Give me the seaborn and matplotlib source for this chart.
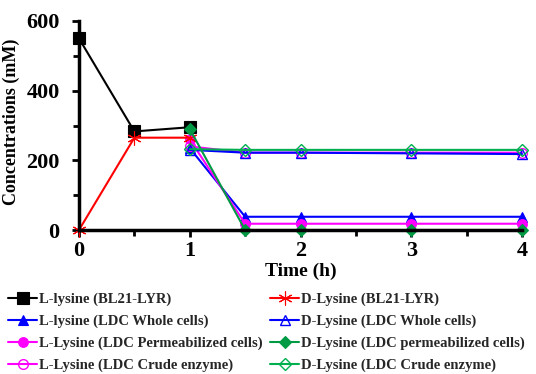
import matplotlib
matplotlib.use("Agg")
import matplotlib.pyplot as plt
import seaborn as sns
import pandas as pd
from matplotlib.ticker import MultipleLocator

sns.set_theme(style="white")
plt.rcParams['font.family'] = ['Liberation Serif', 'DejaVu Serif']
plt.rcParams['font.weight'] = 'bold'

t_bl21 = [0, 0.5, 1]
L_bl21 = [550, 283, 295]
D_bl21 = [0, 265, 265]
t_ldc = [1, 1.5, 2, 3, 4]
L_whole = [235, 38, 38, 38, 38]
D_whole = [230, 222, 222, 220, 218]
L_perm = [260, 18, 18, 18, 18]
D_perm = [290, 0, 0, 0, 0]
L_crude = [240, 222, 222, 222, 222]
D_crude = [232, 230, 230, 230, 230]

series = [
    ("L-lysine (BL21-LYR)", t_bl21, L_bl21, "black", "s", "black"),
    ("L-lysine (LDC Whole cells)", t_ldc, L_whole, "#0000FF", "^", "#0000FF"),
    ("L-Lysine (LDC Permeabilized cells)", t_ldc, L_perm, "#FF00FF", "o", "#FF00FF"),
    ("L-Lysine (LDC Crude enzyme)", t_ldc, L_crude, "#FF00FF", "o", "none"),
    ("D-Lysine (BL21-LYR)", t_bl21, D_bl21, "#FF0000", (6, 2, 0), "#FF0000"),
    ("D-Lysine (LDC Whole cells)", t_ldc, D_whole, "#0000FF", "^", "none"),
    ("D-Lysine (LDC permeabilized cells)", t_ldc, D_perm, "#009944", "D", "#009944"),
    ("D-Lysine (LDC Crude enzyme)", t_ldc, D_crude, "#00B050", "D", "none"),
]

fig = plt.figure(figsize=(5.36, 3.74), dpi=100)
ax = fig.add_axes([79/536, 1 - 230/374, (522-79)/536, (230-21)/374])

for name, tx, vals, col, mk, fc in series:
    df = pd.DataFrame({"t": tx, "v": vals})
    ms = 7
    if isinstance(mk, tuple):
        ms = 10
    elif mk == "D":
        ms = 6
    elif mk == "s":
        ms = 8
    sns.lineplot(data=df, x="t", y="v", ax=ax, color=col, marker=mk,
                 markerfacecolor=fc, markeredgecolor=col, markersize=ms,
                 linewidth=1.5, label=name, legend=False, clip_on=False,
                 markeredgewidth=1.0 if fc == "none" else 0.8)

ax.set_xlim(0, 4)
ax.set_ylim(0, 600)
ax.xaxis.set_major_locator(MultipleLocator(1))
ax.xaxis.set_minor_locator(MultipleLocator(0.5))
ax.yaxis.set_major_locator(MultipleLocator(200))
ax.yaxis.set_minor_locator(MultipleLocator(100))
for s in ["top", "right"]:
    ax.spines[s].set_visible(False)
for s in ["left", "bottom"]:
    ax.spines[s].set_color("black")
    ax.spines[s].set_linewidth(2.5)
ax.tick_params(which="major", direction="out", length=5, width=2, colors="black",
               labelsize=16, bottom=True, left=True, pad=3)
ax.tick_params(axis="y", which="major", pad=9)
ax.tick_params(which="minor", direction="out", length=4, width=2, colors="black",
               bottom=True, left=True)
for lbl in ax.get_xticklabels() + ax.get_yticklabels():
    lbl.set_fontweight("bold")
ax.set_xlabel("Time (h)", fontsize=14, fontweight="bold", labelpad=1, color="black")
ax.set_ylabel("Concentrations (mM)", fontsize=13, fontweight="bold", color="black")
ax.yaxis.set_label_coords(-0.133, 0.517)
ax.set_facecolor("white")

handles, labels = ax.get_legend_handles_labels()
leg = fig.legend(handles, labels, ncol=2, loc="upper left", bbox_to_anchor=(0.015, 0.217),
                 frameon=False, prop={"family": "Liberation Serif", "weight": "bold", "size": 10.5},
                 handlelength=2.0, handletextpad=0.1, columnspacing=0.55, labelspacing=0.58,
                 borderaxespad=0.0, borderpad=0.0)

fig.savefig("out.png", dpi=100, facecolor="white")
